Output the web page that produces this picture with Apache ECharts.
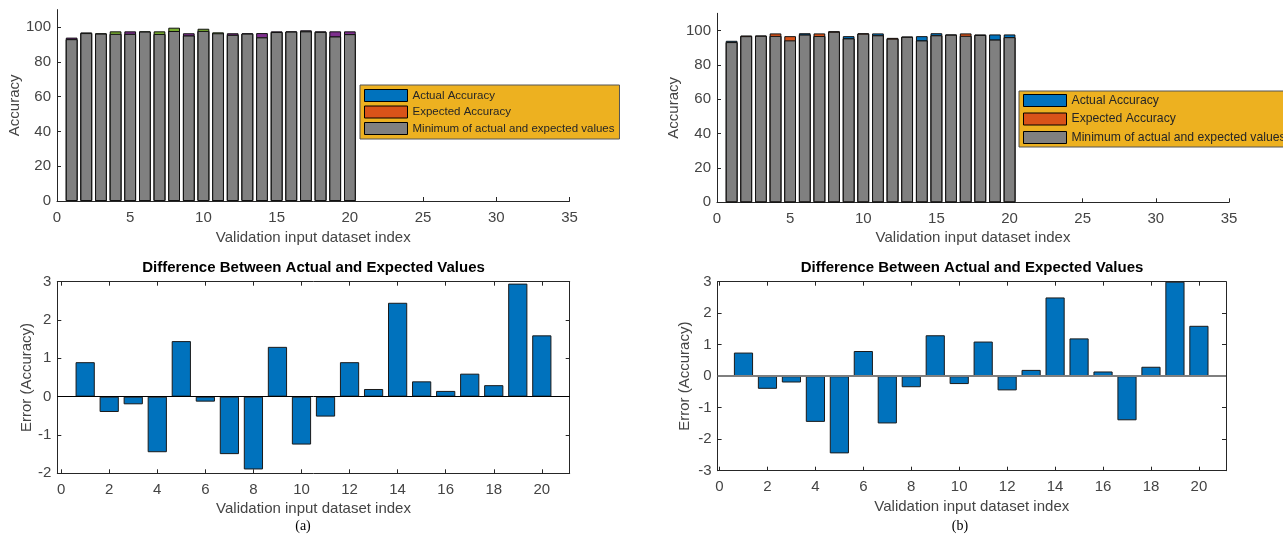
<!DOCTYPE html>
<html><head><meta charset="utf-8">
<script src="https://cdn.jsdelivr.net/npm/echarts@6/dist/echarts.min.js"></script>
<style>html,body{margin:0;padding:0;background:#fff}#c{width:1283px;height:535px}</style>
</head><body><div id="c"></div>
<script>
// ---- data ----
const indices = [1,2,3,4,5,6,7,8,9,10,11,12,13,14,15,16,17,18,19,20];
// panel (a)
const actualA   = [93.9,96.5,96.2,96.05,97.5,97.37,96.0,97.7,96.4,97.75,96.4,96.4,96.4,96.5,97.5,97.5,98.1,97.5,97.5,97.5];
const expectedA = [93.0,96.9,96.4,97.5,96.05,97.5,97.5,99.6,95.1,99.0,96.92,95.5,96.2,94.05,97.1,97.35,97.5,97.2,94.55,95.9];
// panel (b)
const actualB   = [94.0,96.7,96.9,96.85,94.25,98.4,96.8,99.25,96.7,98.15,98.3,95.25,96.5,96.7,98.4,97.7,96.9,97.7,97.7,97.7];
const expectedB = [93.25,97.1,97.1,98.3,96.7,97.6,98.3,99.6,95.4,98.4,97.2,95.7,96.3,94.2,97.2,97.55,98.3,97.4,94.7,96.1];
// ticks
const xTicksTop = [0,5,10,15,20,25,30,35];
const yTicksTop = [0,20,40,60,80,100];
const xTicksBottom = [0,2,4,6,8,10,12,14,16,18,20];
const yTicksBottomA = [-2,-1,0,1,2,3];
const yTicksBottomB = [-3,-2,-1,0,1,2,3];
const legendNames = ['Actual Accuracy','Expected Accuracy','Minimum of actual and expected values'];

// ---- build ----
const FF = '"Liberation Sans", Arial, Helvetica, sans-serif';
const AX = '#262626', LBL = '#444';
const r2 = v => Math.round(v*1000)/1000;
function pairs(f){ return indices.map((x,i)=>[x, r2(f(i))]); }

function xAxisTop(grid, name, nameGap){
  return {type:'value', gridIndex:grid, min:0, max:35, interval:5,
    name:name, nameLocation:'middle', nameGap:nameGap,
    nameTextStyle:{fontFamily:FF,fontSize:15,color:LBL},
    axisLine:{show:true,onZero:false,lineStyle:{color:AX,width:1}},
    axisTick:{show:true,inside:true,length:4,lineStyle:{color:AX},customValues:xTicksTop},
    axisLabel:{fontFamily:FF,fontSize:15,color:LBL,margin:9,customValues:xTicksTop},
    splitLine:{show:false}};
}
function yAxisTop(grid, nameGap){
  return {type:'value', gridIndex:grid, min:0, max:110, interval:20,
    name:'Accuracy', nameLocation:'middle', nameGap:nameGap,
    nameTextStyle:{fontFamily:FF,fontSize:15,color:LBL},
    axisLine:{show:true,lineStyle:{color:AX,width:1}},
    axisTick:{show:true,inside:true,length:4,lineStyle:{color:AX},customValues:yTicksTop},
    axisLabel:{fontFamily:FF,fontSize:15,color:LBL,margin:6,customValues:yTicksTop},
    splitLine:{show:false}};
}
function xAxisBot(grid, min, max, nameGap){
  return [{type:'value', gridIndex:grid, min:min, max:max, position:'bottom',
    name:'Validation input dataset index', nameLocation:'middle', nameGap:nameGap,
    nameTextStyle:{fontFamily:FF,fontSize:15,color:LBL},
    axisLine:{show:true,onZero:false,lineStyle:{color:AX,width:1}},
    axisTick:{show:true,inside:true,length:4,lineStyle:{color:AX},customValues:xTicksBottom},
    axisLabel:{fontFamily:FF,fontSize:15,color:LBL,margin:9,customValues:xTicksBottom},
    splitLine:{show:false}},
   {type:'value', gridIndex:grid, min:min, max:max, position:'top',
    axisLine:{show:true,onZero:false,lineStyle:{color:AX,width:1}},
    axisTick:{show:true,inside:true,length:4,lineStyle:{color:AX},customValues:xTicksBottom},
    axisLabel:{show:false}, splitLine:{show:false}}];
}
function yAxisBot(grid, ticks, nameGap){
  const mn = ticks[0], mx = ticks[ticks.length-1];
  return [{type:'value', gridIndex:grid, min:mn, max:mx, interval:1, position:'left',
    name:'Error (Accuracy)', nameLocation:'middle', nameGap:nameGap,
    nameTextStyle:{fontFamily:FF,fontSize:15,color:LBL},
    axisLine:{show:true,onZero:false,lineStyle:{color:AX,width:1}},
    axisTick:{show:true,inside:true,length:4,lineStyle:{color:AX},customValues:ticks},
    axisLabel:{fontFamily:FF,fontSize:15,color:LBL,margin:6,customValues:ticks},
    splitLine:{show:false}},
   {type:'value', gridIndex:grid, min:mn, max:mx, interval:1, position:'right',
    axisLine:{show:true,onZero:false,lineStyle:{color:AX,width:1}},
    axisTick:{show:true,inside:true,length:4,lineStyle:{color:AX},customValues:ticks},
    axisLabel:{show:false}, splitLine:{show:false}}];
}

// Overlapping bars: coloured full-height bars for actual / expected, grey minimum drawn on top,
// so only the difference between the two shows in colour above the grey part.
function overlapSeries(actual, expected, xi, yi, actColor, expColor){
  const base = {type:'bar', xAxisIndex:xi, yAxisIndex:yi, barWidth:'80%', barGap:'-100%',
    silent:true, animation:false};
  return [
    Object.assign({}, base, {name:legendNames[0], data:pairs(i=>actual[i]), z:2,
      itemStyle:{color:actColor,borderColor:'#111',borderWidth:1}}),
    Object.assign({}, base, {name:legendNames[1], data:pairs(i=>expected[i]), z:3,
      itemStyle:{color:expColor,borderColor:'#111',borderWidth:1}}),
    Object.assign({}, base, {name:legendNames[2], data:pairs(i=>Math.min(actual[i],expected[i])), z:4,
      itemStyle:{color:'#808080',borderColor:'#111',borderWidth:1}})
  ];
}
function errSeries(actual, expected, xi, yi, zeroColor, zeroWidth){
  return {type:'bar', xAxisIndex:xi, yAxisIndex:yi, barWidth:'80%', silent:true, animation:false,
    data:pairs(i=>actual[i]-expected[i]),
    itemStyle:{color:'#0072BD',borderColor:'#1a1a1a',borderWidth:1},
    markLine:{silent:true, symbol:'none', animation:false, label:{show:false},
      lineStyle:{color:zeroColor,type:'solid',width:zeroWidth}, data:[{yAxis:0}]}};
}
function legendCfg(left, top, fs, gap, pad){
  return {left:left, top:top, orient:'vertical', selectedMode:false,
    backgroundColor:'#EDB120', borderColor:'#555', borderWidth:1, borderRadius:0,
    padding:pad, itemWidth:43, itemHeight:12, itemGap:gap,
    textStyle:{fontFamily:FF,fontSize:fs,color:'#262626',lineHeight:12},
    data:[
      {name:legendNames[0], icon:'rect', itemStyle:{color:'#0072BD',borderColor:'#000',borderWidth:1}},
      {name:legendNames[1], icon:'rect', itemStyle:{color:'#D95319',borderColor:'#000',borderWidth:1}},
      {name:legendNames[2], icon:'rect', itemStyle:{color:'#808080',borderColor:'#000',borderWidth:1}}
    ]};
}

const xb0 = xAxisBot(2, -0.16, 21.16, 28);
const xb1 = xAxisBot(3, -0.08, 21.13, 29);
const yb0 = yAxisBot(2, yTicksBottomA, 23);
const yb1 = yAxisBot(3, yTicksBottomB, 25);

const option = {
  backgroundColor:'#fff', animation:false,
  grid:[
    {left:57, top:9.6, width:512.5, height:191.4},
    {left:717, top:13.3, width:512, height:189},
    {left:57.3, top:281.7, width:512.4, height:191.6},
    {left:717.6, top:281.7, width:508.4, height:189}
  ],
  xAxis:[ xAxisTop(0,'Validation input dataset index',29.5), xAxisTop(1,'Validation input dataset index',28.5),
          xb0[0], xb0[1], xb1[0], xb1[1] ],
  yAxis:[ yAxisTop(0,35), yAxisTop(1,36), yb0[0], yb0[1], yb1[0], yb1[1] ],
  legend:[ legendCfg(360, 85, 11.5, 3.5, [4,5,4,4]), legendCfg(1019, 91, 12.2, 5.5, [3,5,3,4]) ],
  series:[].concat(
    overlapSeries(actualA, expectedA, 0, 0, '#7E2F8E', '#77AC30'),
    overlapSeries(actualB, expectedB, 1, 1, '#0072BD', '#D95319'),
    [errSeries(actualA, expectedA, 2, 2, '#000', 1), errSeries(actualB, expectedB, 4, 4, '#7f7f7f', 2)]
  ),
  graphic:[
    {type:'text', x:313.5, y:268.3, style:{text:'Difference Between Actual and Expected Values', fontFamily:FF, fontSize:15, fontWeight:'bold', fill:'#000', align:'center', verticalAlign:'middle'}},
    {type:'text', x:972, y:268.3, style:{text:'Difference Between Actual and Expected Values', fontFamily:FF, fontSize:15, fontWeight:'bold', fill:'#000', align:'center', verticalAlign:'middle'}},
    {type:'text', x:303, y:526.7, style:{text:'(a)', fontFamily:'"Liberation Serif", "Times New Roman", serif', fontSize:14, fill:'#000', align:'center', verticalAlign:'middle'}},
    {type:'text', x:960, y:526.7, style:{text:'(b)', fontFamily:'"Liberation Serif", "Times New Roman", serif', fontSize:14, fill:'#000', align:'center', verticalAlign:'middle'}}
  ]
};
const chart = echarts.init(document.getElementById('c'), null, {renderer:'canvas'});
chart.setOption(option);
</script></body></html>
